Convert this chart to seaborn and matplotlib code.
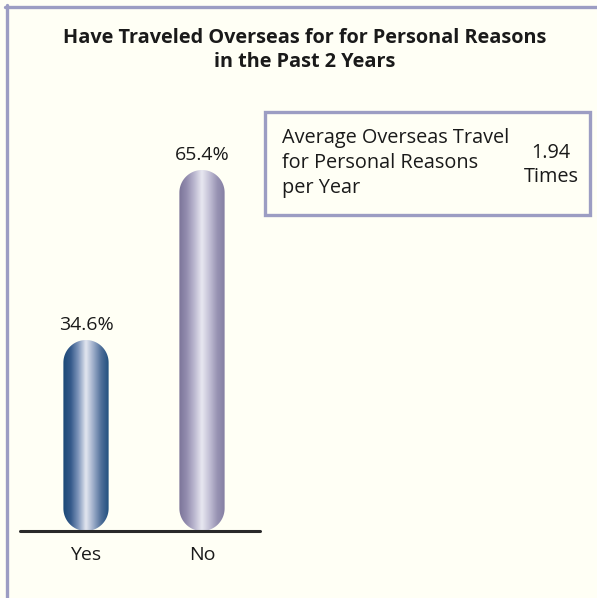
import numpy as np
import pandas as pd
import matplotlib
matplotlib.use("Agg")
import matplotlib.pyplot as plt
import seaborn as sns
from matplotlib.patches import Polygon, Rectangle
from matplotlib.colors import LinearSegmentedColormap
from matplotlib.lines import Line2D

categories = ["Yes", "No"]
values = [34.6, 65.4]
value_labels = ["34.6%", "65.4%"]
title_lines = ["Have Traveled Overseas for for Personal Reasons", "in the Past 2 Years"]
box_lines = ["Average Overseas Travel", "for Personal Reasons", "per Year"]
box_value = ["1.94", "Times"]

sns.set_theme(style="white")
plt.rcParams["font.family"] = ["Open Sans", "DejaVu Sans"]

W, H = 597, 598
BG = "#fffff5"
FRAME = "#9c9dc3"
TXT = "#1a1a1a"
fig = plt.figure(figsize=(W / 100, H / 100), dpi=100, facecolor=BG)

def fx(px):
    return px / W

def fy(py):
    return 1 - py / H

ax_l, ax_r, ax_top, ax_base = 20, 260, 100, 531
ax = fig.add_axes([fx(ax_l), fy(ax_base), (ax_r - ax_l) / W, (ax_base - ax_top) / H])
ax.set_facecolor(BG)

df = pd.DataFrame({"cat": categories, "val": values})
sns.barplot(data=df, x="cat", y="val", hue="cat", palette=["#1f4f7c", "#857ea3"],
            width=0.39, legend=False, ax=ax)
XL = (-0.569, 1.5)
YL = (0, (ax_base - ax_top) / 5.52)
ax.set_xlim(*XL)
ax.set_ylim(*YL)
for s in ax.spines.values():
    s.set_visible(False)
ax.set_yticks([])
ax.set_xlabel("")
ax.set_ylabel("")
ax.tick_params(axis="x", length=0, pad=11, labelsize=14, labelcolor=TXT)
ax.axhline(0, color="#2a2a2a", lw=2.2, zorder=5, clip_on=False)

grads = [
    ["#1a4876", "#34598a", "#7f96bb", "#e4e7f0", "#9aabc8", "#4f6f99", "#21507e"],
    ["#7b7498", "#938daf", "#bbb7cf", "#e8e8f1", "#c2bfd5", "#9893b3", "#857fa3"],
]

fig.canvas.draw()
p0 = ax.transData.transform((0, 0))
p1 = ax.transData.transform((1, 1))
xd_per_px = 1 / (p1[0] - p0[0])
yd_per_px = 1 / (p1[1] - p0[1])
aspect = yd_per_px / xd_per_px

for i, patch in enumerate(ax.patches):
    x0, y0 = patch.get_x(), patch.get_y()
    w, h = patch.get_width(), patch.get_height()
    patch.set_visible(False)
    r = w / 2
    ry = r * aspect
    cx = x0 + r
    t_top = np.linspace(0, np.pi, 60)
    t_bot = np.linspace(np.pi, 2 * np.pi, 60)
    top = np.column_stack([cx + r * np.cos(t_top), y0 + h - ry + ry * np.sin(t_top)])
    bot = np.column_stack([cx + r * np.cos(t_bot), y0 + ry + ry * np.sin(t_bot)])
    pts = np.vstack([top, bot])
    clip = Polygon(pts, closed=True, transform=ax.transData,
                   facecolor="none", edgecolor="none")
    ax.add_patch(clip)
    cmap = LinearSegmentedColormap.from_list(f"g{i}", grads[i])
    grad = np.linspace(0, 1, 256).reshape(1, -1)
    im = ax.imshow(grad, cmap=cmap, extent=[x0, x0 + w, y0, y0 + h],
                   aspect="auto", zorder=3, interpolation="bicubic")
    im.set_clip_path(clip)
    ax.text(x0 + w / 2, y0 + h + 15 * yd_per_px, value_labels[i], ha="center",
            va="center", fontsize=14, color=TXT)

ax.set_xlim(*XL)
ax.set_ylim(*YL)

fig.add_artist(Line2D([fx(6.5), fx(6.5)], [fy(5), fy(H)], color=FRAME, lw=2.4,
                      transform=fig.transFigure))
fig.add_artist(Line2D([fx(5), fx(W)], [fy(6.5), fy(6.5)], color=FRAME, lw=2.4,
                      transform=fig.transFigure))

fig.text(fx(305), fy(38), title_lines[0], ha="center", va="center",
         fontsize=14.3, fontweight="bold", color=TXT)
fig.text(fx(305), fy(62), title_lines[1], ha="center", va="center",
         fontsize=14.3, fontweight="bold", color=TXT)

fig.add_artist(Rectangle((fx(265), fy(215)), fx(590) - fx(265), fy(112) - fy(215),
                         transform=fig.transFigure, facecolor=BG, edgecolor=FRAME, lw=2.4))
for t, yy in zip(box_lines, [138, 163, 188]):
    fig.text(fx(282), fy(yy), t, ha="left", va="center", fontsize=14.3, color=TXT)
fig.text(fx(551), fy(153), box_value[0], ha="center", va="center", fontsize=14.3, color=TXT)
fig.text(fx(551), fy(177), box_value[1], ha="center", va="center", fontsize=14.3, color=TXT)

fig.savefig("out.png", dpi=100, facecolor=BG)
